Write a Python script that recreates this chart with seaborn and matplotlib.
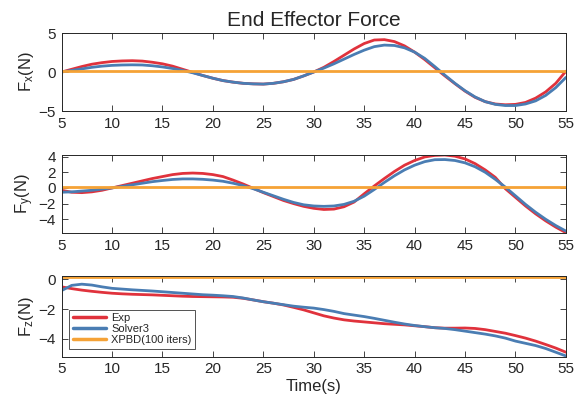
import matplotlib
matplotlib.use("Agg")
import matplotlib.pyplot as plt
import seaborn as sns

# time samples (s)
time = list(range(5, 56))
xpbd_time = [5, 15, 25, 35, 45, 55]

fx_exp = [0.0, 0.35, 0.7, 1.0, 1.2, 1.35, 1.42, 1.45, 1.4, 1.25, 1.05, 0.75, 0.35, -0.05, -0.45,
          -0.8, -1.1, -1.3, -1.45, -1.52, -1.55, -1.45, -1.25, -0.95, -0.5, 0.0, 0.6, 1.35, 2.15,
          2.95, 3.65, 4.1, 4.15, 3.9, 3.35, 2.55, 1.6, 0.55, -0.5, -1.5, -2.45, -3.25, -3.8,
          -4.1, -4.2, -4.15, -3.9, -3.35, -2.55, -1.45, 0.1]
fx_solver = [0.0, 0.2, 0.4, 0.6, 0.75, 0.85, 0.9, 0.92, 0.9, 0.8, 0.65, 0.45, 0.2, -0.1, -0.45,
             -0.8, -1.1, -1.3, -1.45, -1.52, -1.55, -1.45, -1.25, -0.95, -0.5, 0.0, 0.5, 1.05, 1.65,
             2.25, 2.8, 3.25, 3.45, 3.4, 3.1, 2.55, 1.75, 0.7, -0.4, -1.45, -2.4, -3.2, -3.8,
             -4.15, -4.3, -4.3, -4.1, -3.7, -3.0, -2.0, -0.7]
fx_xpbd = [0.1, 0.1, 0.1, 0.1, 0.1, 0.1]

fy_exp = [-0.3, -0.55, -0.6, -0.5, -0.3, 0.0, 0.3, 0.6, 0.9, 1.2, 1.45, 1.7, 1.85, 1.9, 1.85,
          1.7, 1.45, 1.0, 0.5, -0.05, -0.6, -1.1, -1.6, -2.0, -2.35, -2.6, -2.75, -2.7, -2.4,
          -1.8, -0.75, 0.25, 1.2, 2.1, 2.9, 3.5, 3.95, 4.15, 4.2, 4.05, 3.7, 3.1, 2.3, 1.35,
          -0.1, -1.2, -2.3, -3.3, -4.2, -5.0, -5.7]
fy_solver = [-0.55, -0.5, -0.4, -0.3, -0.15, 0.0, 0.2, 0.4, 0.6, 0.8, 0.95, 1.08, 1.15, 1.15,
             1.1, 1.0, 0.85, 0.6, 0.3, -0.1, -0.55, -1.0, -1.45, -1.85, -2.15, -2.3, -2.35, -2.3,
             -2.1, -1.7, -1.05, -0.2, 0.7, 1.55, 2.3, 2.9, 3.35, 3.6, 3.62, 3.5, 3.2, 2.7, 2.0,
             1.1, 0.1, -1.0, -2.1, -3.1, -4.0, -4.8, -5.5]
fy_xpbd = [0.08, 0.08, 0.08, 0.08, 0.08, 0.08]

fz_exp = [-0.5, -0.62, -0.72, -0.8, -0.87, -0.93, -0.97, -1.0, -1.02, -1.04, -1.07, -1.1, -1.13,
          -1.15, -1.16, -1.17, -1.18, -1.2, -1.27, -1.38, -1.5, -1.6, -1.72, -1.88, -2.05, -2.25,
          -2.45, -2.6, -2.72, -2.8, -2.86, -2.92, -2.98, -3.02, -3.06, -3.12, -3.18, -3.25,
          -3.28, -3.28, -3.27, -3.3, -3.38, -3.5, -3.62, -3.78, -3.95, -4.15, -4.38, -4.62, -4.9]
fz_solver = [-0.75, -0.4, -0.32, -0.38, -0.5, -0.6, -0.65, -0.7, -0.74, -0.78, -0.83, -0.88,
             -0.93, -0.98, -1.03, -1.06, -1.1, -1.15, -1.25, -1.38, -1.5, -1.6, -1.7, -1.8, -1.87,
             -1.93, -2.03, -2.15, -2.3, -2.4, -2.5, -2.62, -2.75, -2.88, -3.0, -3.1, -3.18, -3.25,
             -3.3, -3.38, -3.48, -3.58, -3.68, -3.8, -3.95, -4.15, -4.3, -4.45, -4.65, -4.9, -5.15]
fz_xpbd = [0.15, 0.15, 0.15, 0.15, 0.15, 0.15]

labels = ["Exp", "Solver3", "XPBD(100 iters)"]
colors = ["#e0323c", "#4a7db3", "#f5a236"]

sns.set_theme(style="white")
plt.rcParams["font.family"] = ["Liberation Sans", "DejaVu Sans"]
plt.rcParams["mathtext.fontset"] = "custom"
plt.rcParams["mathtext.rm"] = "Liberation Sans"
plt.rcParams["mathtext.it"] = "Liberation Sans:italic"

fig = plt.figure(figsize=(5.87, 4.09), dpi=100)
boxes = [[0.105, 0.7286, 0.859, 0.1907],
         [0.105, 0.4303, 0.859, 0.1907],
         [0.105, 0.1279, 0.859, 0.198]]
panels = [
    (fx_exp, fx_solver, fx_xpbd, r"F$_{\mathrm{x}}$(N)", (-5, 5), [-5, 0, 5]),
    (fy_exp, fy_solver, fy_xpbd, r"F$_{\mathrm{y}}$(N)", (-5.75, 4.2), [-4, -2, 0, 2, 4]),
    (fz_exp, fz_solver, fz_xpbd, r"F$_{\mathrm{z}}$(N)", (-5.2, 0.25), [-4, -2, 0]),
]

axes = []
for i, (exp, sol, xp, ylab, ylim, yticks) in enumerate(panels):
    ax = fig.add_axes(boxes[i])
    show = i == 2
    sns.lineplot(x=time, y=exp, ax=ax, color=colors[0], lw=2, label=labels[0] if show else None)
    sns.lineplot(x=time, y=sol, ax=ax, color=colors[1], lw=2, label=labels[1] if show else None)
    sns.lineplot(x=xpbd_time, y=xp, ax=ax, color=colors[2], lw=2, label=labels[2] if show else None)
    ax.set_xlim(5, 55)
    ax.set_ylim(*ylim)
    ax.set_xticks(range(5, 56, 5))
    ax.set_yticks(yticks)
    ax.set_ylabel(ylab, fontsize=12, labelpad=2)
    ax.tick_params(direction="in", bottom=True, left=True, top=True, right=True,
                   length=4, width=0.6, labelsize=11, colors="#262626", pad=4)
    for sp in ax.spines.values():
        sp.set_color("#262626")
        sp.set_linewidth(0.7)
    axes.append(ax)

axes[0].set_title("End Effector Force", fontsize=15, pad=5)
axes[2].set_xlabel("Time(s)", fontsize=12, labelpad=2)

leg = axes[2].legend(loc="lower left", bbox_to_anchor=(0.015, 0.1), borderaxespad=0,
                     fontsize=8, frameon=True, fancybox=False, handlelength=3.0,
                     labelspacing=0.1, borderpad=0.3, handletextpad=0.5)
leg.get_frame().set_edgecolor("#262626")
leg.get_frame().set_linewidth(0.7)
for line in leg.get_lines():
    line.set_linewidth(2.5)

fig.savefig("out.png", dpi=100)
